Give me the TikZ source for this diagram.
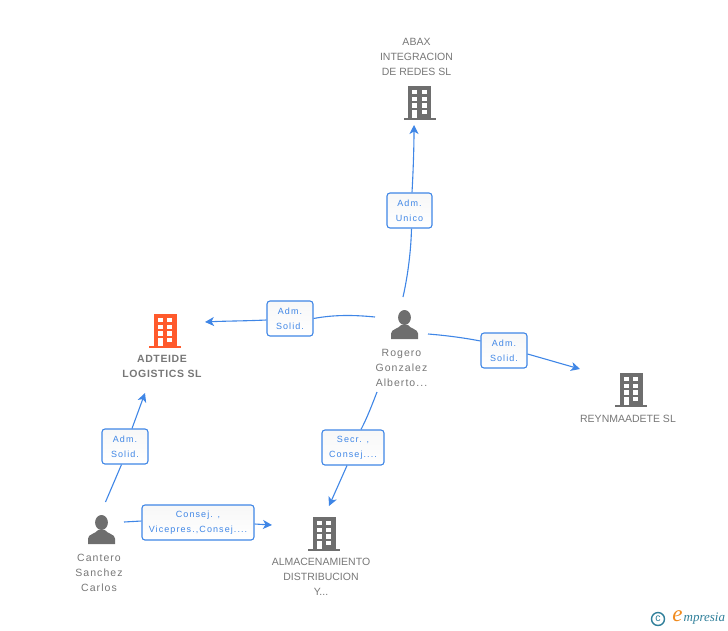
\documentclass[tikz,border=0pt]{standalone}
\usepackage{fontspec}
\setmainfont{Liberation Sans}
\newfontfamily\capsfont{Liberation Sans}
\newfontfamily\namefont[LetterSpace=10]{Liberation Sans}
\newfontfamily\boldnamefont[LetterSpace=6]{Liberation Sans Bold}
\newfontfamily\tagfont[LetterSpace=12]{Liberation Sans}
\newfontfamily\logofont{Liberation Serif}
\usetikzlibrary{arrows.meta,shapes.geometric}
\definecolor{linkblue}{HTML}{3F86E6}
\definecolor{labelgrey}{HTML}{777777}
\definecolor{icongrey}{HTML}{6E6E6E}
\definecolor{iconorange}{HTML}{FF5A2C}
\definecolor{logoteal}{HTML}{2F7F9A}
\definecolor{logoorange}{HTML}{F08A1D}
\tikzset{
  link/.style={draw=linkblue,line width=1.1pt},
  linkarrow/.style={link,-{Stealth[length=9pt,width=9pt,inset=2.5pt]}},
  tagbox/.style={draw=linkblue,line width=1.1pt,rounded corners=3pt,top color=black!3,bottom color=white,
    minimum height=35pt,inner sep=0pt,align=center,text=linkblue,
    font=\tagfont\fontsize{9}{15}\selectfont},
  entity/.style={text=labelgrey,align=center,inner sep=0pt,font=\namefont\fontsize{10.5}{15}\selectfont},
  entitycaps/.style={entity,font=\capsfont\fontsize{10.5}{15}\selectfont},
  entitybold/.style={entity,font=\boldnamefont\fontsize{10.5}{15}\selectfont},
}
% building icon centred on the body; #1 position, #2 colour
\newcommand{\buildingicon}[2]{%
  \begin{scope}[shift={#1}]
    \fill[#2] (-11.5,-16) rectangle (11.5,16);
    \fill[#2] (-16,15.8) rectangle (16,18);
    \foreach \yy in {-12,-5.3,1.3} {
      \fill[white] (-7.3,\yy) rectangle (-2.3,\yy+4.2);
      \fill[white] (2.3,\yy) rectangle (7.3,\yy+4.2);
    }
    \fill[white] (-7.3,8) rectangle (-2.3,16);
    \fill[white] (2.3,8) rectangle (7.3,12.2);
  \end{scope}}
% person icon, centred on the head/body axis
\newcommand{\personicon}[1]{%
  \begin{scope}[shift={#1}]
    \fill[icongrey] (0,-7.5) ellipse (6.4pt and 7.5pt);
    \fill[icongrey] (-13.5,14) -- (-13.5,8.5) .. controls (-13.5,4) and (-5,3.5) .. (-3.5,0)
      -- (3.5,0) .. controls (5,3.5) and (13.5,4) .. (13.5,8.5) -- (13.5,14) -- cycle;
  \end{scope}}
\begin{document}
\begin{tikzpicture}[x=1pt,y=-1pt]
\useasboundingbox (0,0) rectangle (728,630);

% icons
\buildingicon{(419.5,102)}{icongrey}
\buildingicon{(165,330)}{iconorange}
\buildingicon{(631,389)}{icongrey}
\buildingicon{(324,533)}{icongrey}
\personicon{(404.5,325)}
\personicon{(101.5,530)}

% entity texts
\node[entitycaps] (abax) at (416.5,57) {ABAX\\INTEGRACION\\DE REDES SL};
\node[entitybold] (adteide) at (162,366) {ADTEIDE\\LOGISTICS SL};
\node[entity] (rogero) at (401.5,368) {Rogero\\Gonzalez\\Alberto...};
\node[entitycaps] (reynma) at (628,419) {REYNMAADETE SL};
\node[entitycaps] (almacen) at (321,577) {ALMACENAMIENTO\\DISTRIBUCION\\Y...};
\node[entity] (cantero) at (99,573) {Cantero\\Sanchez\\Carlos};

% relation tags
\node[tagbox,minimum width=45pt] (tagabax) at (409.5,210.5) {Adm.\\Unico};
\node[tagbox,minimum width=46pt] (tagadteide) at (290,318.5) {Adm.\\Solid.};
\node[tagbox,minimum width=46pt] (tagreynma) at (504,350.5) {Adm.\\Solid.};
\node[tagbox,minimum width=62pt] (tagalmacen) at (353,447.5) {Secr. ,\\Consej....};
\node[tagbox,minimum width=46pt] (tagcantero) at (125,446.5) {Adm.\\Solid.};
\node[tagbox,minimum width=112pt] (tagcons) at (198,522.5) {Consej. ,\\Vicepres.,Consej....};

% connector ends
\coordinate (rogeroN) at (403,297);
\coordinate (rogeroW) at (375,317);
\coordinate (rogeroE) at (428,334);
\coordinate (rogeroS) at (377,392);
\coordinate (abaxS) at (414,125);
\coordinate (adteideE) at (205,322);
\coordinate (reynmaW) at (580,369);
\coordinate (almacenN) at (329,506);
\coordinate (almacenW) at (272,525);
\coordinate (adteideS) at (145,393);
\coordinate (canteroN) at (105.5,502);
\coordinate (canteroE) at (124,522);

% connectors
\draw[link] (rogeroN) .. controls (408,275) and (411,250) .. (tagabax.south -| 411.5,0);
\draw[linkarrow] (tagabax.north -| 412,0) .. controls (413,175) and (414,150) .. (abaxS);
\draw[link] (rogeroW) .. controls (355,315) and (335,314.5) .. (tagadteide.east);
\draw[linkarrow] (tagadteide.west |- 0,320) .. controls (245,321) and (225,321) .. (adteideE);
\draw[link] (rogeroE) .. controls (447,335.5) and (465,338) .. (tagreynma.west |- 0,341);
\draw[linkarrow] (tagreynma.east |- 0,354) -- (reynmaW);
\draw[link] (rogeroS) .. controls (372,405) and (367,418) .. (tagalmacen.north -| 361,0);
\draw[linkarrow] (tagalmacen.south -| 347,0) -- (almacenN);
\draw[link] (canteroN) -- (tagcantero.south -| 121.5,0);
\draw[linkarrow] (tagcantero.north -| 132,0) -- (adteideS);
\draw[link] (canteroE) -- (tagcons.west |- 0,521);
\draw[linkarrow] (tagcons.east |- 0,524) -- (almacenW);

% logo
\node[draw=logoteal,line width=1.4pt,circle,minimum size=13pt,inner sep=0pt,text=logoteal,
  font=\fontsize{10.5}{10.5}\selectfont] (copyr) at (658,619) {c};
\node[text=logoorange,inner sep=0pt,font=\logofont\itshape\fontsize{23}{23}\selectfont] (logoe) at (677.5,616.5) {e};
\node[text=logoteal,anchor=west,inner sep=0pt,font=\logofont\itshape\fontsize{13}{13}\selectfont] (logotxt) at (683.5,619) {mpresia};
\end{tikzpicture}
\end{document}
